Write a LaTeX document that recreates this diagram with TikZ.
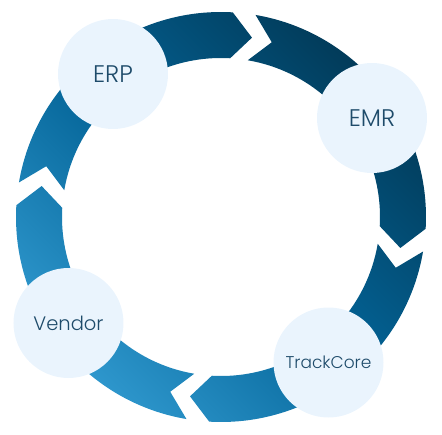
\documentclass[tikz,border=0pt]{standalone}
\usepackage{fontspec}
\setmainfont{Poppins}[UprightFont=* Light]

\definecolor{ringdark}{HTML}{023A58}
\definecolor{ringmid}{HTML}{036396}
\definecolor{ringlight}{HTML}{2F98CE}
\definecolor{bubble}{HTML}{EAF4FD}
\definecolor{bubbletext}{HTML}{1E4B6A}

\tikzset{
  station/.style={circle, fill=bubble, minimum size=110pt, inner sep=0pt,
    text=bubbletext, font=\fontsize{24}{28}\selectfont},
  ring/.style={top color=ringdark, bottom color=ringlight, middle color=ringmid,
    shading angle=-45}
}

\begin{document}
\begin{tikzpicture}
        \useasboundingbox (-221pt,-217pt) rectangle (221pt,217pt);
        % ring of four arrows, clockwise
        \shade[ring]
          (80.3:205pt) arc[start angle=80.3, end angle=-3.3, radius=205pt] -- (-9.8:182pt)
            -- (-3.3:159pt) arc[start angle=-3.3, end angle=80.3, radius=159pt] -- (73.8:182pt) -- cycle
          (-9.7:205pt) arc[start angle=-9.7, end angle=-93.3, radius=205pt] -- (-99.8:182pt)
            -- (-93.3:159pt) arc[start angle=-93.3, end angle=-9.7, radius=159pt] -- (-16.2:182pt) -- cycle
          (-99.7:205pt) arc[start angle=-99.7, end angle=-183.3, radius=205pt] -- (-189.8:182pt)
            -- (-183.3:159pt) arc[start angle=-183.3, end angle=-99.7, radius=159pt] -- (-106.2:182pt) -- cycle
          (170.3:205pt) arc[start angle=170.3, end angle=86.7, radius=205pt] -- (80.2:182pt)
            -- (86.7:159pt) arc[start angle=86.7, end angle=170.3, radius=159pt] -- (163.8:182pt) -- cycle;
        % systems
        \node[station] (erp) at (-108pt,143pt) {ERP};
        \node[station] (emr) at (151pt,99pt) {EMR};
        \node[station, font=\fontsize{17}{21}\selectfont] (trackcore) at (107.5pt,-145.5pt) {TrackCore};
        \node[station, font=\fontsize{19.5}{23}\selectfont] (vendor) at (-152.5pt,-106pt) {Vendor};
        % \node[station,fill=white] (hub) at (0,0) {};
\end{tikzpicture}
\end{document}
